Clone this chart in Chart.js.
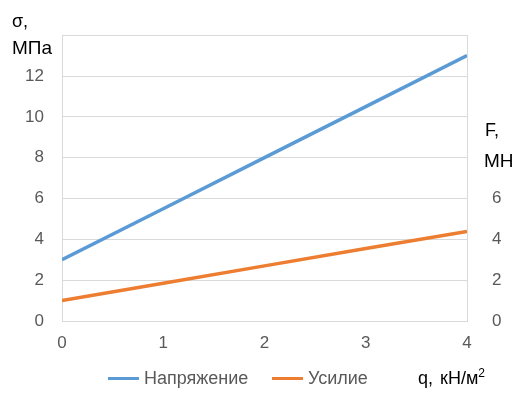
<!DOCTYPE html>
<html>
<head>
<meta charset="utf-8">
<script src="https://cdn.jsdelivr.net/npm/chart.js@4"></script>
<style>
  body { margin: 0; background: #fff; font-family: "Liberation Sans", Arial, sans-serif; }
  #wrap { position: relative; width: 527px; height: 403px; }
  canvas { position: absolute; left: 0; top: 0; }
  .lbl { position: absolute; font-size: 18px; color: #000; white-space: nowrap; line-height: 1; }
  .leg { position: absolute; top: 369px; font-size: 18px; color: #595959; line-height: 1; white-space: nowrap; }
  .sw { display: inline-block; width: 31px; height: 3px; vertical-align: middle; margin-right: 5px; position: relative; top: -1px; }
</style>
</head>
<body>
<div id="wrap">
  <canvas id="chart" width="527" height="403"></canvas>
  <div class="lbl" style="left:12px;top:12px;">σ,</div>
  <div class="lbl" style="left:12px;top:38px;font-size:19px;">МПа</div>
  <div class="lbl" style="left:485px;top:121px;">F,</div>
  <div class="lbl" style="left:484px;top:151px;font-size:19px;">МН</div>
  <div class="leg" style="left:108px;"><span class="sw" style="background:#5b9bd5"></span>Напряжение</div>
  <div class="leg" style="left:272px;"><span class="sw" style="background:#ed7d31"></span>Усилие</div>
  <div class="lbl" style="left:418px;top:367px;word-spacing:2px;">q, кН/м<sup style="font-size:12px;vertical-align:7px;">2</sup></div>
</div>
<script>
const qValues = [0, 1, 2, 3, 4];
const stress = [3, 5.5, 8, 10.5, 13];
const force = [1, 1.85, 2.7, 3.55, 4.38];
const leftTicksShown = [0, 2, 4, 6, 8, 10, 12];
const rightTicksShown = [0, 2, 4, 6];

const tickFont = { family: '"Liberation Sans", Arial, sans-serif', size: 17 };

new Chart(document.getElementById('chart'), {
  type: 'line',
  data: {
    datasets: [
      {
        label: 'Напряжение',
        data: qValues.map((q, i) => ({ x: q, y: stress[i] })),
        borderColor: '#5b9bd5',
        borderWidth: 3.5,
        pointRadius: 0,
        yAxisID: 'y'
      },
      {
        label: 'Усилие',
        data: qValues.map((q, i) => ({ x: q, y: force[i] })),
        borderColor: '#ed7d31',
        borderWidth: 3.5,
        pointRadius: 0,
        yAxisID: 'y2'
      }
    ]
  },
  options: {
    responsive: false,
    animation: false,
    layout: { padding: { top: 34, left: 0, right: 0, bottom: 0 } },
    plugins: { legend: { display: false }, tooltip: { enabled: false } },
    scales: {
      x: {
        type: 'linear',
        min: 0, max: 4,
        ticks: { stepSize: 1, color: '#595959', font: tickFont, padding: 12 },
        grid: { display: false, drawTicks: false },
        border: { color: '#d9d9d9', width: 1 },
        afterFit: s => { s.height = 82; }
      },
      y: {
        position: 'left',
        min: 0, max: 14,
        ticks: {
          stepSize: 2, color: '#595959', font: tickFont, padding: 18,
          callback: v => leftTicksShown.includes(v) ? v : ''
        },
        grid: { color: '#d9d9d9', drawTicks: false },
        border: { color: '#d9d9d9', width: 1 },
        afterFit: s => { s.width = 62; }
      },
      y2: {
        position: 'right',
        min: 0, max: 14,
        ticks: {
          stepSize: 2, color: '#595959', font: tickFont, padding: 25,
          callback: v => rightTicksShown.includes(v) ? v : ''
        },
        grid: { display: false, drawTicks: false },
        border: { color: '#d9d9d9', width: 1 },
        afterFit: s => { s.width = 60; }
      }
    }
  }
});
</script>
</body>
</html>
